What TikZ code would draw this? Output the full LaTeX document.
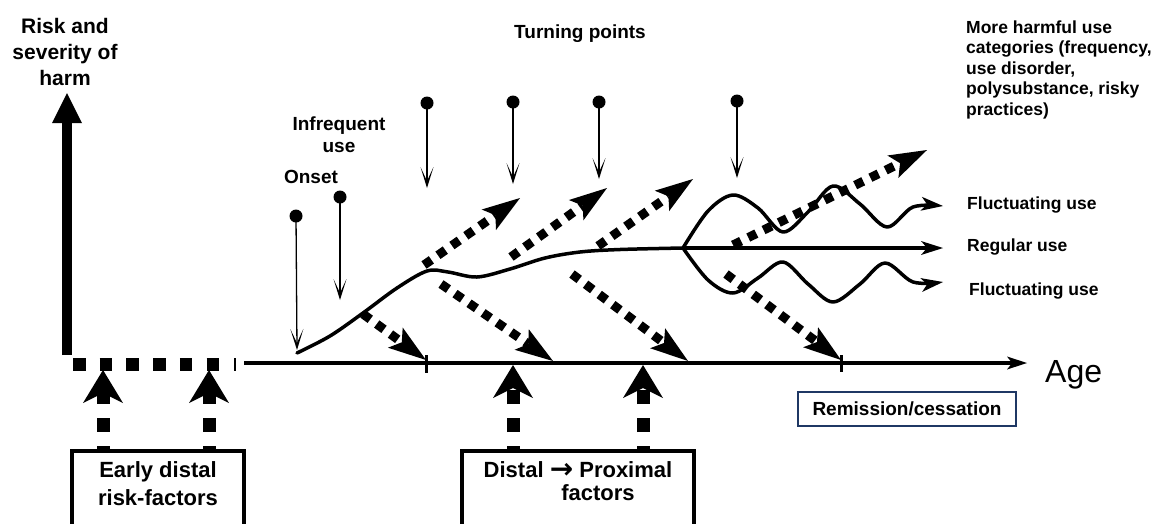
\documentclass[tikz,border=0pt]{standalone}
\usepackage{fontspec}
\setmainfont{Liberation Sans}
\newfontfamily\arrowfont{DejaVu Sans}
\usetikzlibrary{arrows.meta}
\definecolor{navy}{RGB}{31,56,100}
\begin{document}
\begin{tikzpicture}[x=1pt,y=-1pt,
  thick curve/.style={line width=3.5pt, line join=round, line cap=round},
  axisline/.style={line width=3.5pt, -{Stealth[length=20pt,width=13pt,inset=5pt,line width=0pt]}},
  tickmark/.style={line width=3pt},
  flucarrow/.style={line width=3.5pt, line join=round, -{Stealth[length=22pt,width=14pt,inset=6pt,line width=0pt]}},
  dotarrow/.style={line width=9pt, dash pattern=on 9pt off 8pt, -{Stealth[length=38pt,width=25pt,inset=8pt,line width=0pt]}},
  boxarrow/.style={line width=13pt, dash pattern=on 14pt off 14pt, dash phase=11pt, -{Stealth[length=33pt,width=40pt,inset=10pt,line width=0pt]}},
  tpdot/.style={circle, fill=black, inner sep=0pt, minimum size=13pt},
  tparrow/.style={line width=1.3pt, -{Stealth[length=21pt,width=13pt,inset=14pt,line width=0pt]}},
  lbl/.style={font=\fontsize{19}{22}\selectfont\bfseries, inner sep=0pt},
  rlbl/.style={font=\fontsize{17.5}{20.5}\selectfont\bfseries, inner sep=0pt},
  fbox/.style={draw, line width=4pt, fill=white, inner sep=0pt},
  boxtxt/.style={inner sep=0pt, align=center},
  rembox/.style={draw=navy, line width=1.6pt, minimum width=218pt, minimum height=34pt, inner sep=0pt, font=\fontsize{19}{22}\selectfont\bfseries}
]
\useasboundingbox (0,0) rectangle (1155,523);
\clip (0,0) rectangle (1155,523);

% ---------- axes ----------
\coordinate (vb) at (67,355);
\coordinate (vt) at (67,93);
\draw[line width=10pt, -{Triangle[length=30pt,width=30pt,line width=0pt]}] (vb) -- (vt);
\coordinate (hd0) at (73,364.5);
\coordinate (hd1) at (220,364.5);
\draw[line width=12.5pt, dash pattern=on 12.5pt off 14.2pt] (hd0) -- (hd1);
\draw[line width=2pt] (235,358) -- (235,371);
\coordinate (ax0) at (244,363);
\coordinate (ax1) at (1027,363);
\draw[axisline] (ax0) -- (ax1);
\draw[tickmark] (426,355) -- (426,373);
\draw[tickmark] (841,355) -- (841,372);

% ---------- trajectory ----------
\coordinate (branch) at (683,248);
\draw[thick curve] plot[smooth, tension=0.55] coordinates {(297,353) (330,336) (363,313) (397,288) (427,271) (448,272) (477,277) (510,269) (545,258) (580,252) (620,249.5) (683,248)};
\coordinate (regend) at (943,248);
\draw[flucarrow] (branch) -- (regend);
\draw[flucarrow] plot[smooth, tension=0.55] coordinates {(683,248) (708,211) (733,195) (758,208) (783,232) (808,212) (833,186) (860,204) (887,227) (913,207) (943,206)};
\draw[flucarrow] plot[smooth, tension=0.55] coordinates {(683,248) (708,280) (733,293) (758,278) (783,262) (808,284) (833,302) (860,284) (885,263) (913,282) (943,282)};

% ---------- dotted arrows ----------
\coordinate (u1s) at (424,265); \coordinate (u1e) at (520,198);
\coordinate (u2s) at (511,257); \coordinate (u2e) at (607,188);
\coordinate (u3s) at (598,246); \coordinate (u3e) at (693,179);
\coordinate (u4s) at (733,245); \coordinate (u4e) at (927,150);
\coordinate (d1s) at (363,314); \coordinate (d1e) at (426,360);
\coordinate (d2s) at (441,284); \coordinate (d2e) at (553,361);
\coordinate (d3s) at (572,274); \coordinate (d3e) at (688,361);
\coordinate (d4s) at (726,274); \coordinate (d4e) at (841,360);
\foreach \a in {u1,u2,u3,u4,d1,d2,d3,d4}{
  \draw[dotarrow] (\a s) -- (\a e);
}

% ---------- turning point markers ----------
\node[tpdot] (on) at (296,216) {};
\node[tpdot] (inf) at (340,197) {};
\node[tpdot] (tp1) at (427,103) {};
\node[tpdot] (tp2) at (513,102) {};
\node[tpdot] (tp3) at (599,102) {};
\node[tpdot] (tp4) at (737,101) {};
\coordinate (ont) at (297,350);
\coordinate (inft) at (340,300);
\coordinate (tp1t) at (427,188);
\coordinate (tp2t) at (513,184);
\coordinate (tp3t) at (599,179);
\coordinate (tp4t) at (737,178);
\draw[tparrow] (on.center) -- (ont);
\draw[tparrow] (inf.center) -- (inft);
\draw[tparrow] (tp1.center) -- (tp1t);
\draw[tparrow] (tp2.center) -- (tp2t);
\draw[tparrow] (tp3.center) -- (tp3t);
\draw[tparrow] (tp4.center) -- (tp4t);

% ---------- labels ----------
\node[font=\fontsize{21}{26}\selectfont\bfseries, inner sep=0pt, align=center, anchor=base] (risk) at (65,85) {Risk and\\severity of\\harm};
\node[lbl, anchor=base] (turn) at (580,38) {Turning points};
\node[lbl, align=center, anchor=base] (infl) at (339,152) {Infrequent\\use};
\node[lbl, anchor=base] (onl) at (311,183) {Onset};
\node[rlbl, align=left, anchor=base west] (harm) at (966,115) {More harmful use\\categories (frequency,\\use disorder,\\polysubstance, risky\\practices)};
\node[rlbl, anchor=base west] (fl1) at (967,209) {Fluctuating use};
\node[rlbl, anchor=base west] (reg) at (967,251) {Regular use};
\node[rlbl, anchor=base west] (fl2) at (969,295) {Fluctuating use};
\node[font=\fontsize{32}{38}\selectfont, inner sep=0pt, anchor=base west] (age) at (1045,382) {Age};
\node[rembox] (rem) at (907,409) {Remission/cessation};

% ---------- factor boxes ----------
\node[fbox, anchor=north west, minimum width=172pt, minimum height=120pt] (early) at (70,448.5) {};
\node[fbox, anchor=north west, minimum width=232pt, minimum height=120pt] (dist) at (460,449) {};
\node[boxtxt, font=\fontsize{22}{28}\selectfont\bfseries, anchor=base] (earlytxt) at (158,505) {Early distal\\risk-factors};
\node[boxtxt, font=\fontsize{22}{23}\selectfont\bfseries, anchor=base] (disttxt) at (578,500) {Distal \raisebox{-1.5pt}{\arrowfont\bfseries\fontsize{28}{28}\selectfont →} Proximal\\\hspace*{40pt}factors};
\coordinate (e1t) at (103,370);
\coordinate (e2t) at (209,370);
\coordinate (p1t) at (513,365);
\coordinate (p2t) at (643,365);
\draw[boxarrow] (early.north -| e1t) -- (e1t);
\draw[boxarrow] (early.north -| e2t) -- (e2t);
\draw[boxarrow] (dist.north -| p1t) -- (p1t);
\draw[boxarrow] (dist.north -| p2t) -- (p2t);
\end{tikzpicture}
\end{document}
